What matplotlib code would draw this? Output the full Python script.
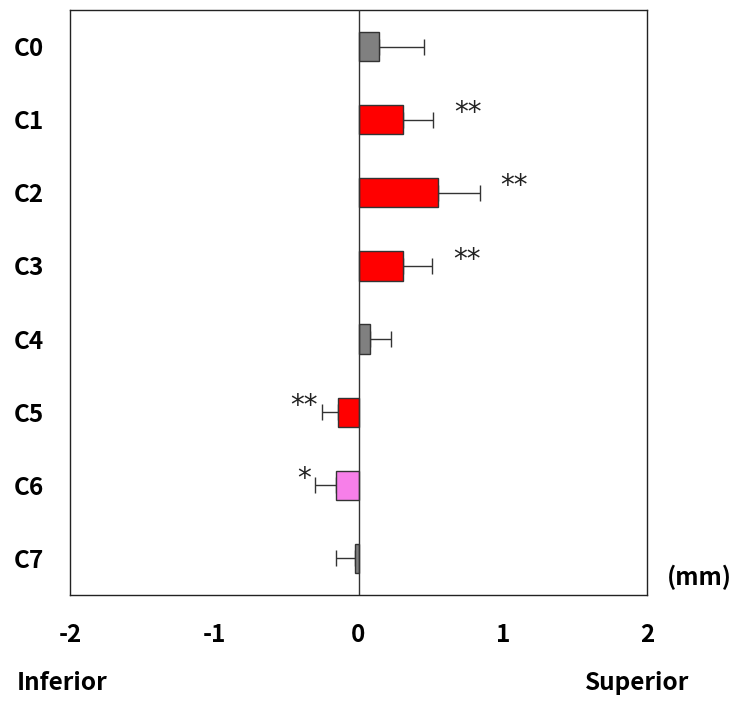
import matplotlib
matplotlib.use("Agg")
import matplotlib.pyplot as plt
import numpy as np

categories = ["C0", "C1", "C2", "C3", "C4", "C5", "C6", "C7"]
values = [0.145, 0.307, 0.55, 0.307, 0.08, -0.145, -0.155, -0.023]
errors = [0.31, 0.21, 0.29, 0.205, 0.148, 0.105, 0.145, 0.132]
colors = ["#808080", "#FF0000", "#FF0000", "#FF0000", "#808080", "#FF0000", "#F77FE9", "#808080"]
stars = ["", "**", "**", "**", "", "**", "*", ""]
xticks = [-2, -1, 0, 1, 2]

font = ["Noto Sans CJK KR", "DejaVu Sans"]
fs = 17.5

fig = plt.figure(figsize=(7.37, 7.02), dpi=100)
ax = fig.add_axes([0.095, 0.1524, 0.783, 0.8334])

y = np.arange(len(categories))
for i, (v, e, c) in enumerate(zip(values, errors, colors)):
    ax.barh(y[i], v, height=0.4, color=c, edgecolor="#333333", linewidth=1.0, zorder=2)
    sign = 1 if v >= 0 else -1
    ax.errorbar(v, y[i], xerr=[[0], [e]] if sign > 0 else [[e], [0]],
                fmt="none", ecolor="#333333", elinewidth=1.0, capsize=6, capthick=1.0, zorder=1)
    if stars[i]:
        xe = v + sign * e
        if sign > 0:
            dx = 25
        else:
            dx = -13 if stars[i] == "**" else -8
        ax.annotate(stars[i], xy=(xe, y[i]), xytext=(dx, -5.5),
                    textcoords="offset points", ha="center", va="bottom",
                    fontsize=20, color="#222222", family="DejaVu Sans")

ax.axvline(0, color="#333333", linewidth=1.0, zorder=3)
ax.set_xlim(-2, 2)
ax.set_ylim(len(categories) - 0.5, -0.5)
ax.set_xticks(xticks)
ax.set_xticklabels([str(t) for t in xticks], fontsize=fs, fontweight="bold", family=font)
ax.set_yticks(y)
ax.set_yticklabels(categories, fontsize=fs, fontweight="bold", family=font)
ax.tick_params(axis="both", length=0)
ax.tick_params(axis="x", pad=20)
ax.tick_params(axis="y", pad=19)
for s in ax.spines.values():
    s.set_linewidth(1.0)
    s.set_color("#222222")

fig.text(667 / 737, 1 - 577 / 702, "(mm)", fontsize=fs, fontweight="bold", family=font,
         ha="left", va="center")
fig.text(17 / 737, 1 - 683 / 702, "Inferior", fontsize=fs, fontweight="bold", family=font,
         ha="left", va="center")
fig.text(689 / 737, 1 - 683 / 702, "Superior", fontsize=fs, fontweight="bold", family=font,
         ha="right", va="center")

fig.savefig("out.png", dpi=100)
